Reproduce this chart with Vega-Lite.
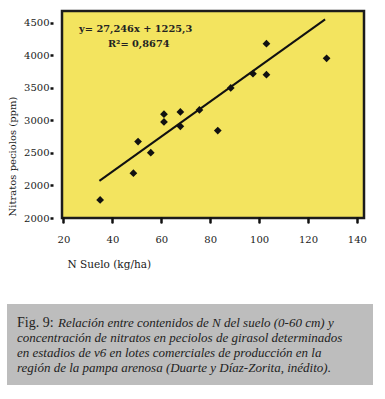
{
  "$schema": "https://vega.github.io/schema/vega-lite/v6.json",
  "background": "white",
  "padding": {"left": 6, "top": 9, "right": 5, "bottom": 5},
  "spacing": 33,
  "config": {"font": "DejaVu Serif"},
  "datasets": {
    "puntos": [
      {"n_suelo": 35.0, "nitratos": 1778},
      {"n_suelo": 48.6, "nitratos": 2189},
      {"n_suelo": 50.5, "nitratos": 2675},
      {"n_suelo": 55.7, "nitratos": 2505},
      {"n_suelo": 61.1, "nitratos": 3096},
      {"n_suelo": 61.1, "nitratos": 2977},
      {"n_suelo": 67.8, "nitratos": 3131},
      {"n_suelo": 67.8, "nitratos": 2911},
      {"n_suelo": 75.6, "nitratos": 3162},
      {"n_suelo": 83.1, "nitratos": 2844},
      {"n_suelo": 88.4, "nitratos": 3500},
      {"n_suelo": 97.5, "nitratos": 3720},
      {"n_suelo": 103.0, "nitratos": 4181},
      {"n_suelo": 103.0, "nitratos": 3705},
      {"n_suelo": 127.6, "nitratos": 3957}
    ],
    "ajuste": [
      {"n_suelo": 34.7, "nitratos": 2071},
      {"n_suelo": 127.0, "nitratos": 4556}
    ],
    "ecuacion": [
      {"n_suelo": 26.4, "nitratos": 4402, "texto": "y= 27,246x + 1225,3"},
      {"n_suelo": 38.2, "nitratos": 4172, "texto": "R²= 0,8674"}
    ],
    "caja": [
      {"x0": -0.1821, "x1": 1.0298, "y0": -0.29, "y1": 5.11}
    ],
    "leyenda": [
      {"linea": 1, "tipo": "fig", "texto": "Fig. 9:"},
      {"linea": 1, "tipo": "cuerpo1", "texto": "Relación entre contenidos de N del suelo (0-60 cm) y"},
      {"linea": 2, "tipo": "cuerpo", "texto": "concentración de nitratos en peciolos de girasol determinados"},
      {"linea": 3, "tipo": "cuerpo", "texto": "en estadios de v6 en lotes comerciales de producción en la"},
      {"linea": 4, "tipo": "cuerpo", "texto": "región de la pampa arenosa (Duarte y Díaz-Zorita, inédito)."}
    ]
  },
  "vconcat": [
    {
      "width": 302,
      "height": 207,
      "view": {"fill": "#f3e45f", "stroke": "#1c1c1c", "strokeWidth": 2.5},
      "encoding": {
        "x": {
          "field": "n_suelo",
          "type": "quantitative",
          "scale": {"domain": [19.4, 142.9], "nice": false, "zero": false},
          "axis": {
            "values": [20, 40, 60, 80, 100, 120, 140],
            "title": "N Suelo (kg/ha)",
            "domain": false,
            "grid": false,
            "tickSize": 4,
            "tickWidth": 2.5,
            "tickColor": "#111111",
            "tickCap": "round",
            "labelPadding": 12,
            "labelFont": "DejaVu Serif",
            "labelFontSize": 10,
            "labelColor": "#1a1a1a",
            "titleFont": "DejaVu Serif",
            "titleFontSize": 10.5,
            "titleFontWeight": "normal",
            "titleColor": "#1a1a1a",
            "titleAnchor": "start",
            "titleAlign": "left",
            "titleBaseline": "alphabetic",
            "titleX": 5,
            "titleY": 49
          }
        },
        "y": {
          "field": "nitratos",
          "type": "quantitative",
          "scale": {"domain": [1500, 4684], "nice": false, "zero": false},
          "axis": {
            "values": [1500, 2000, 2500, 3000, 3500, 4000, 4500],
            "format": "d",
            "labelExpr": "datum.value == 1500 ? '2000' : datum.label",
            "title": "Nitratos peciolos (ppm)",
            "domain": false,
            "grid": false,
            "tickSize": 12,
            "tickWidth": 2.5,
            "tickDash": [0, 9, 3],
            "tickColor": "#111111",
            "tickCap": "butt",
            "labelPadding": 1,
            "labelFont": "DejaVu Serif",
            "labelFontSize": 10,
            "labelColor": "#1a1a1a",
            "titleFont": "DejaVu Serif",
            "titleFontSize": 10,
            "titleFontWeight": "normal",
            "titleColor": "#1a1a1a",
            "titleAngle": 270,
            "titleAlign": "center",
            "titleBaseline": "middle",
            "titleX": -49.5,
            "titleY": 145
          }
        }
      },
      "layer": [
        {
          "data": {"name": "ajuste"},
          "mark": {"type": "line", "color": "#111111", "strokeWidth": 2}
        },
        {
          "data": {"name": "puntos"},
          "mark": {"type": "point", "shape": "diamond", "filled": true, "color": "#111111", "opacity": 1, "size": 60}
        },
        {
          "data": {"name": "ecuacion"},
          "mark": {"type": "text", "align": "left", "baseline": "middle", "font": "DejaVu Serif", "fontWeight": "bold", "fontSize": 9.8, "color": "#222222"},
          "encoding": {"text": {"field": "texto"}}
        }
      ]
    },
    {
      "width": 302,
      "height": 81,
      "view": {"fill": null, "stroke": null},
      "layer": [
        {
          "data": {"name": "caja"},
          "mark": {"type": "rect", "color": "#bdbdbd", "clip": false},
          "encoding": {
            "x": {"field": "x0", "type": "quantitative", "scale": {"domain": [0, 1], "nice": false, "zero": false}, "axis": null},
            "x2": {"field": "x1"},
            "y": {"field": "y0", "type": "quantitative", "scale": {"domain": [-0.29, 5.11], "reverse": true, "nice": false, "zero": false}, "axis": null},
            "y2": {"field": "y1"}
          }
        },
        {
          "data": {"name": "leyenda"},
          "encoding": {
            "x": {"datum": -0.149, "type": "quantitative"},
            "y": {"field": "linea", "type": "quantitative"},
            "text": {"field": "texto"}
          },
          "layer": [
            {
              "transform": [{"filter": "datum.tipo == 'fig'"}],
              "mark": {"type": "text", "align": "left", "baseline": "middle", "font": "Liberation Serif", "fontSize": 14, "color": "#222222", "clip": false}
            },
            {
              "transform": [{"filter": "datum.tipo == 'cuerpo1'"}],
              "mark": {"type": "text", "align": "left", "baseline": "middle", "font": "Liberation Serif", "fontStyle": "italic", "fontSize": 13, "color": "#222222", "dx": 41, "clip": false}
            },
            {
              "transform": [{"filter": "datum.tipo == 'cuerpo'"}],
              "mark": {"type": "text", "align": "left", "baseline": "middle", "font": "Liberation Serif", "fontStyle": "italic", "fontSize": 13, "color": "#222222", "clip": false}
            }
          ]
        }
      ]
    }
  ]
}
